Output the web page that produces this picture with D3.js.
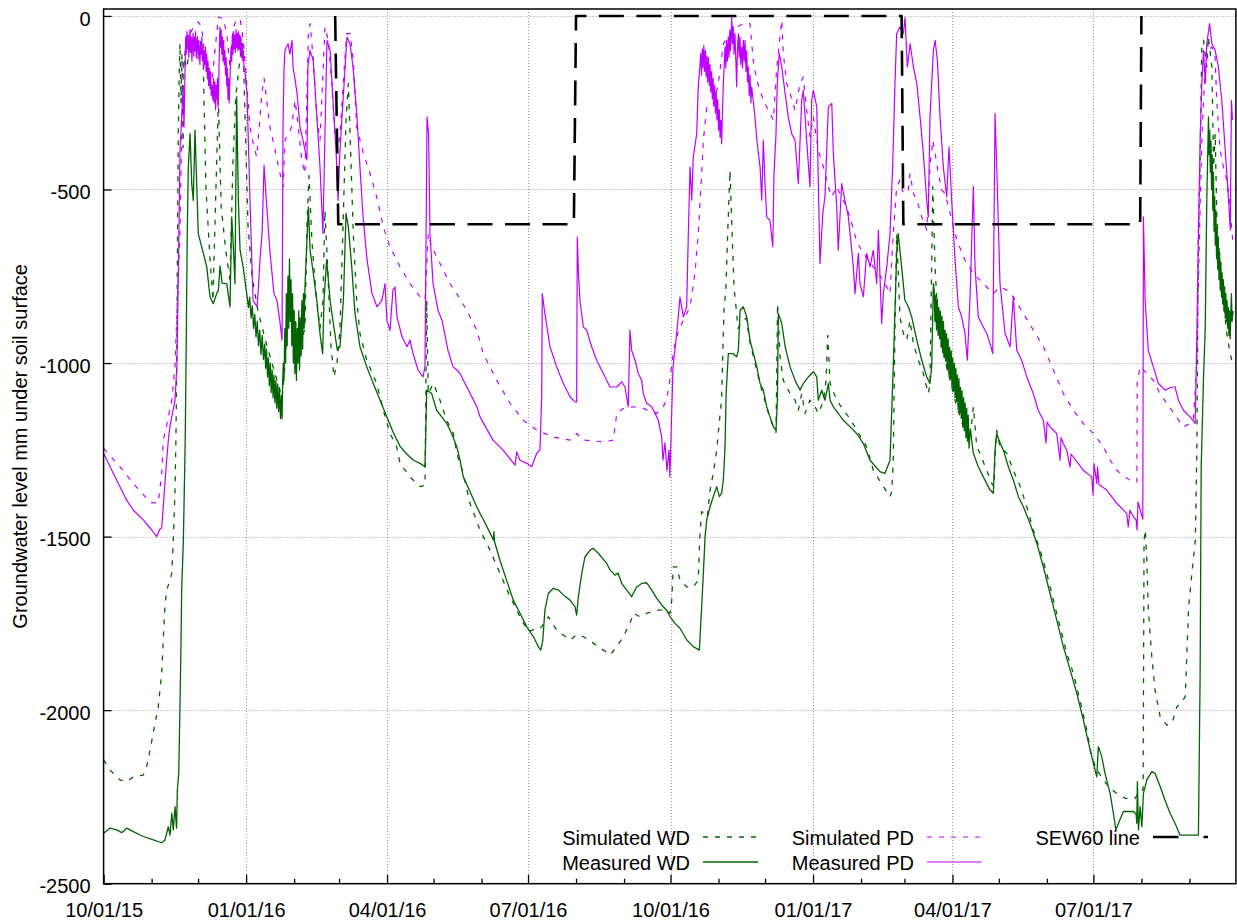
<!DOCTYPE html>
<html>
<head>
<meta charset="utf-8">
<script src="https://cdn.jsdelivr.net/npm/d3@7"></script>
<style>
  body { margin: 0; background: #fff; }
  svg { display: block; }
  text { font-family: "Liberation Sans", Arial, Helvetica, sans-serif; fill: #000; }
</style>
</head>
<body>
<svg id="chart" width="1237" height="924"></svg>
<script>
// Groundwater level below soil surface (mm), records from 10/01/2015.
// Each point is [days since 2015-10-01, level in mm].
const seriesStart = "2015-10-01";
const seriesEnd = "2017-10-01";

const yTickValues = [0, -500, -1000, -1500, -2000, -2500];
const xTickDates = ["2015-10-01", "2016-01-01", "2016-04-01", "2016-07-01", "2016-10-01", "2017-01-01", "2017-04-01", "2017-07-01"];
const xTickLabels = ["10/01/15", "01/01/16", "04/01/16", "07/01/16", "10/01/16", "01/01/17", "04/01/17", "07/01/17"];

const seriesNames = ["Simulated WD", "Measured WD", "Simulated PD", "Measured PD", "SEW60 line"];

const simulatedWD = [
[0,-2143],[4.1,-2172],[10.6,-2201],[14.9,-2206],[19.2,-2192],[25.6,-2187],[27.8,-2163],[30.0,-2115],[33.2,-2038],[35.3,-1990],[37.5,-1894],[38.5,-1798],[39.6,-1702],[40.7,-1654],[42.9,-1625],[44.0,-1606],[45.0,-1510],[46.1,-1366],[46.7,-1222],[47.2,-1011],[47.6,-723],[48.2,-339],[48.9,-147],[49.3,-80],[50.0,-250],[50.6,-110],[51.3,-380],[51.9,-120],[53.8,-150],[55.8,-80],[59.0,-60],[62.2,-70],[64.2,-110],[66.1,-500],[68.7,-700],[70.6,-820],[71.9,-600],[74.1,-243],[75.9,-550],[79.0,-680],[81.6,-760],[83.5,-420],[85.4,-230],[88.1,-120],[90.0,-80],[92.0,-400],[93.2,-600],[95.8,-750],[99.7,-850],[104.2,-930],[108.7,-1000],[112.6,-1060],[115.2,-1100],[117.2,-1000],[119.0,-850],[121.0,-800],[123.6,-880],[126.8,-950],[130.0,-900],[131.3,-600],[132.6,-460],[134.5,-650],[137.1,-800],[139.7,-900],[141.6,-820],[142.9,-560],[144.9,-750],[146.8,-950],[148.7,-1040],[150.7,-1000],[152.6,-900],[154.6,-600],[156.5,-300],[158.0,-195],[159.1,-339],[161.2,-627],[163.4,-819],[165.5,-915],[169.9,-992],[176.3,-1059],[180.6,-1136],[184.9,-1203],[189.2,-1241],[191.4,-1289],[197.8,-1328],[204.3,-1356],[207.5,-1352],[208.6,-819],[209.6,-1088],[212.9,-1059],[217.2,-1107],[221.5,-1165],[225.8,-1203],[228.0,-1260],[232.2,-1318],[236.5,-1404],[243.0,-1481],[249.5,-1539],[255.9,-1606],[262.4,-1673],[268.8,-1731],[274.2,-1774],[277.4,-1769],[280.7,-1769],[282.8,-1760],[287.1,-1731],[292.5,-1769],[301.1,-1798],[305.4,-1783],[309.7,-1788],[316.1,-1807],[322.6,-1827],[326.9,-1841],[331.3,-1817],[335.5,-1788],[339.8,-1750],[342.0,-1721],[346.3,-1731],[350.6,-1721],[357.1,-1712],[363.5,-1712],[365.7,-1721],[366.8,-1683],[367.8,-1587],[370.0,-1587],[372.1,-1625],[376.5,-1645],[380.7,-1645],[383.9,-1625],[385.0,-1491],[386.1,-1428],[388.3,-1433],[389.7,-1443],[391.5,-1366],[393.6,-1318],[395.8,-1251],[399.0,-1100],[400.5,-850],[401.8,-780],[403.1,-600],[404.4,-445],[405.7,-620],[407.0,-780],[409.6,-900],[412.2,-880],[414.8,-870],[417.3,-940],[423.8,-1060],[430.2,-1160],[434.1,-1200],[435.1,-829],[436.7,-980],[438.8,-1050],[443.2,-1088],[446.4,-1107],[448.5,-1136],[450.7,-1088],[452.9,-1145],[456.0,-1107],[459.3,-1126],[461.4,-1145],[464.7,-1110],[466.4,-1050],[467.5,-920],[469.0,-1059],[473.3,-1107],[477.6,-1136],[481.9,-1160],[486.2,-1193],[492.6,-1241],[496.9,-1309],[503.4,-1356],[507.7,-1385],[508.8,-1370],[509.8,-1280],[510.9,-900],[512.0,-627],[514.1,-867],[516.3,-915],[518.5,-934],[520.6,-877],[522.8,-944],[526.0,-992],[529.2,-1030],[532.4,-1088],[533.5,-1059],[535.3,-492],[536.8,-723],[537.9,-819],[540.0,-915],[543.2,-992],[546.5,-1050],[550.8,-1126],[555.1,-1184],[559.3,-1222],[561.5,-1126],[563.7,-1241],[565.8,-1260],[570.1,-1309],[573.4,-1347],[574.8,-1356],[575.9,-1222],[576.6,-1193],[578.7,-1241],[583.1,-1260],[587.3,-1309],[591.8,-1356],[596.0,-1414],[600.2,-1481],[604.6,-1539],[608.9,-1606],[613.2,-1683],[617.5,-1760],[621.8,-1836],[626.1,-1894],[630.3,-1971],[634.7,-2057],[637.9,-2134],[641.2,-2172],[645.4,-2201],[649.8,-2225],[654.1,-2240],[659.5,-2254],[665.9,-2254],[669.1,-2230],[671.1,-2230],[671.7,-1510],[672.5,-1481],[673.4,-1558],[674.4,-1702],[676.7,-1846],[678.8,-1942],[682.1,-2019],[686.4,-2043],[689.7,-2038],[692.9,-1990],[695.1,-1981],[698.3,-1961],[700.5,-1702],[702.6,-1606],[704.8,-1510],[705.8,-1251],[706.8,-627],[708.0,-387],[709.0,-89],[710.1,-70],[712.2,-147],[713.2,-60],[715.5,-147],[716.6,-435],[717.6,-339],[718.7,-579],[720.8,-723],[722.9,-819],[725.1,-915],[727.3,-973],[729.3,-1011]
];

const measuredWD = [
[0,-2355],[4.1,-2340],[8.5,-2345],[11.7,-2353],[14.9,-2340],[19.2,-2350],[25.6,-2364],[32.1,-2374],[37.5,-2382],[39.6,-2374],[41.8,-2336],[42.9,-2360],[44.0,-2297],[45.0,-2345],[46.1,-2278],[47.1,-2340],[47.6,-2230],[48.5,-2182],[49.3,-1990],[50.0,-1798],[50.4,-1654],[51.5,-1510],[52.1,-1366],[52.7,-1222],[53.2,-1011],[54.0,-627],[54.7,-435],[55.8,-339],[56.9,-483],[57.9,-531],[59.0,-329],[60.1,-483],[61.1,-627],[62.2,-646],[64.4,-684],[66.6,-723],[68.7,-809],[70.8,-829],[73.0,-800],[74.1,-790],[75.2,-720],[76.5,-770],[79.5,-771],[81.6,-838],[82.7,-579],[83.5,-640],[84.8,-771],[85.9,-233],[87.0,-531],[88.1,-675],[90.0,-720],[92.4,-800],[93.5,-840],[94.3,-810],[95.2,-870],[96.0,-835],[96.8,-900],[97.6,-860],[98.4,-925],[99.2,-880],[100.0,-950],[100.8,-905],[101.6,-975],[102.4,-920],[103.2,-990],[104.0,-945],[104.6,-1015],[105.2,-960],[105.8,-1040],[106.4,-985],[107.0,-1065],[107.6,-1000],[108.2,-1085],[108.8,-1020],[109.4,-1100],[110.0,-1035],[110.6,-1115],[111.2,-1050],[111.8,-1130],[112.4,-1060],[113.0,-1140],[113.6,-1075],[114.2,-1160],[114.8,-1095],[115.2,-1160],[115.6,-1060],[116.0,-1000],[116.5,-1050],[117.0,-900],[117.5,-1000],[118.0,-800],[118.5,-950],[119.0,-750],[119.5,-900],[120.0,-700],[120.5,-880],[121.0,-760],[121.5,-950],[122.0,-800],[122.5,-1000],[123.0,-850],[123.5,-1030],[124.0,-880],[124.5,-1050],[125.0,-900],[125.5,-1000],[126.0,-850],[126.5,-1020],[127.0,-870],[127.5,-980],[128.0,-820],[128.5,-960],[129.0,-800],[129.5,-900],[130.0,-780],[132.2,-550],[133.3,-675],[135.4,-742],[137.6,-819],[139.7,-915],[141.4,-973],[142.3,-819],[144.0,-703],[146.2,-819],[148.3,-886],[150.9,-963],[152.6,-953],[154.8,-819],[156.5,-569],[158.0,-608],[160.2,-723],[162.3,-857],[165.5,-953],[169.9,-1011],[174.1,-1059],[178.5,-1107],[182.8,-1155],[187.0,-1200],[191.4,-1240],[195.7,-1262],[200.0,-1280],[204.3,-1289],[207.5,-1299],[208.6,-1078],[211.8,-1088],[215.0,-1136],[218.3,-1155],[221.5,-1174],[224.7,-1203],[228.0,-1241],[230.1,-1280],[232.2,-1328],[236.5,-1370],[240.9,-1414],[243.0,-1433],[245.1,-1450],[249.5,-1490],[251.7,-1510],[252.0,-1486],[252.4,-1515],[255.9,-1568],[260.2,-1626],[264.5,-1683],[268.8,-1721],[273.2,-1760],[277.4,-1788],[280.7,-1817],[282.2,-1827],[283.5,-1800],[284.9,-1712],[287.1,-1664],[290.3,-1649],[293.6,-1654],[296.8,-1668],[301.1,-1683],[304.3,-1702],[305.4,-1726],[306.5,-1673],[308.7,-1606],[310.8,-1558],[314.1,-1539],[316.1,-1534],[319.4,-1548],[324.8,-1577],[326.9,-1596],[330.2,-1611],[332.1,-1605],[334.5,-1635],[337.7,-1654],[340.9,-1673],[344.1,-1645],[347.4,-1635],[350.6,-1633],[353.9,-1654],[357.1,-1678],[360.3,-1697],[363.5,-1712],[365.7,-1731],[368.9,-1750],[372.1,-1764],[376.5,-1798],[380.7,-1817],[384.6,-1827],[386.1,-1702],[387.2,-1606],[388.3,-1500],[389.4,-1452],[391.5,-1414],[393.6,-1385],[395.8,-1356],[397.5,-1385],[399.0,-1375],[400.1,-1337],[401.2,-1241],[401.9,-1088],[403.3,-973],[406.5,-973],[408.7,-982],[409.8,-963],[410.9,-848],[413.0,-838],[415.2,-867],[417.3,-934],[419.5,-973],[421.7,-1011],[423.8,-1059],[425.9,-1078],[428.1,-1126],[430.2,-1155],[432.4,-1184],[434.1,-1193],[435.0,-1107],[435.6,-857],[437.8,-886],[440.0,-953],[443.2,-1011],[446.4,-1050],[449.6,-1078],[451.7,-1059],[455.0,-1040],[458.2,-1025],[460.4,-1040],[461.4,-1107],[463.6,-1078],[465.7,-1107],[467.9,-1059],[469.0,-1107],[471.1,-1126],[474.3,-1145],[477.6,-1165],[481.9,-1184],[486.2,-1203],[490.5,-1232],[494.8,-1280],[501.2,-1313],[504.4,-1318],[507.7,-1280],[509.8,-1011],[512.0,-684],[513.0,-627],[515.2,-723],[517.3,-819],[519.5,-838],[521.7,-867],[525.0,-934],[528.2,-992],[531.4,-1040],[533.5,-1059],[534.6,-1011],[535.7,-771],[536.2,-790],[536.7,-880],[537.2,-805],[537.7,-905],[538.2,-815],[538.7,-920],[539.2,-840],[539.7,-930],[540.2,-850],[540.7,-955],[541.2,-865],[541.7,-970],[542.2,-880],[542.7,-985],[543.2,-905],[543.7,-995],[544.2,-915],[544.7,-1020],[545.2,-930],[545.7,-1035],[546.2,-955],[546.7,-1045],[547.2,-965],[547.7,-1070],[548.2,-985],[548.7,-1080],[549.2,-1000],[549.7,-1100],[550.2,-1015],[550.7,-1110],[551.2,-1035],[551.7,-1135],[552.2,-1045],[552.7,-1145],[553.2,-1070],[553.7,-1160],[554.2,-1080],[554.7,-1185],[555.2,-1100],[555.7,-1195],[556.2,-1115],[556.7,-1215],[557.2,-1130],[557.7,-1225],[558.2,-1150],[558.7,-1245],[559.5,-1190],[561.5,-1260],[564.7,-1299],[567.9,-1328],[572.3,-1366],[574.4,-1375],[575.5,-1251],[576.6,-1203],[577.5,-1215],[578.7,-1230],[580.9,-1251],[584.1,-1299],[587.3,-1337],[590.6,-1385],[593.8,-1414],[598.1,-1462],[602.5,-1520],[606.7,-1587],[611.0,-1664],[615.3,-1740],[619.6,-1817],[624.0,-1884],[628.3,-1952],[632.5,-2028],[636.9,-2115],[639.0,-2153],[641.2,-2192],[642.2,-2105],[644.4,-2134],[646.5,-2182],[649.8,-2240],[651.9,-2297],[653.5,-2345],[655.2,-2326],[658.4,-2292],[664.8,-2292],[666.6,-2300],[667.0,-2326],[667.4,-2206],[668.1,-2345],[669.2,-2278],[670.3,-2336],[671.3,-2240],[673.5,-2201],[676.7,-2177],[678.8,-2182],[682.1,-2220],[685.2,-2259],[688.5,-2297],[691.7,-2326],[694.9,-2360],[706.8,-2360],[707.9,-1900],[708.6,-1300],[710.1,-1040],[711.2,-900],[712.2,-531],[713.3,-291],[713.7,-400],[714.1,-330],[714.5,-450],[714.9,-360],[715.3,-500],[715.7,-400],[716.1,-560],[716.5,-450],[716.9,-620],[717.3,-520],[717.7,-660],[718.1,-560],[718.5,-700],[718.9,-610],[719.3,-730],[719.7,-650],[720.1,-760],[720.5,-680],[720.9,-790],[721.3,-710],[721.7,-810],[722.1,-740],[722.5,-830],[722.9,-760],[723.3,-850],[723.7,-780],[724.1,-870],[724.5,-800],[724.9,-880],[725.3,-820],[725.7,-900],[726.1,-840],[726.5,-920],[726.9,-850],[727.3,-930],[727.7,-860],[728.1,-800],[728.5,-880],[729.2,-850]
];

const simulatedPD = [
[0,-1246],[10.6,-1299],[19.2,-1347],[27.8,-1390],[31.1,-1403],[35.3,-1403],[37.5,-1318],[38.5,-1222],[39.6,-1203],[44.0,-1107],[46.1,-1011],[47.6,-819],[49.3,-627],[50.4,-339],[51.5,-147],[53.2,-80],[56.9,-41],[61.1,-17],[63.3,-32],[65.5,-128],[67.6,-185],[69.8,-195],[71.9,-99],[74.1,-3],[77.3,-8],[79.5,-51],[81.6,-147],[83.7,-32],[85.9,-12],[88.1,-8],[90.2,-70],[92.4,-195],[94.5,-320],[96.6,-368],[98.8,-406],[100.5,-320],[102.1,-224],[103.6,-180],[105.3,-243],[107.4,-320],[110.7,-387],[113.9,-454],[116.0,-492],[117.1,-358],[119.2,-339],[121.4,-320],[123.6,-243],[125.7,-320],[127.9,-415],[130.0,-454],[132.2,-51],[133.3,-22],[135.4,-128],[137.6,-291],[139.7,-358],[141.8,-147],[142.9,-32],[145.1,-70],[147.3,-195],[149.4,-339],[150.9,-396],[152.6,-339],[154.7,-195],[156.9,-51],[159.1,-51],[161.2,-128],[163.4,-320],[167.7,-396],[172.0,-454],[176.3,-521],[180.6,-608],[184.9,-665],[191.4,-723],[197.8,-771],[204.3,-809],[207.5,-819],[209.6,-627],[211.8,-665],[217.2,-713],[223.6,-771],[228.0,-800],[234.4,-848],[240.9,-905],[245.1,-973],[253.8,-1050],[262.4,-1116],[271.0,-1165],[279.6,-1193],[290.3,-1213],[301.1,-1222],[305.4,-1203],[309.7,-1222],[322.6,-1227],[329.1,-1222],[331.3,-1145],[335.5,-1131],[342.0,-1126],[348.4,-1131],[357.1,-1145],[361.3,-1126],[363.5,-1107],[365.8,-1040],[368.0,-963],[371.2,-905],[374.3,-877],[378.6,-838],[381.8,-742],[383.9,-627],[386.1,-454],[387.2,-358],[389.4,-262],[393.6,-252],[396.7,-200],[400.1,-80],[404.4,-51],[408.7,-32],[413.0,-22],[417.3,-22],[419.4,-128],[421.6,-185],[425.9,-243],[430.2,-281],[432.4,-300],[434.6,-147],[437.8,-12],[438.8,-108],[441.0,-195],[443.2,-224],[446.4,-272],[449.6,-195],[451.7,-176],[453.9,-272],[456.0,-348],[458.2,-291],[461.4,-387],[464.7,-435],[467.9,-492],[470.1,-521],[473.3,-492],[477.6,-531],[481.9,-579],[486.2,-650],[490.5,-684],[496.9,-723],[503.4,-761],[507.7,-800],[509.8,-627],[512.0,-492],[514.1,-473],[516.3,-511],[519.5,-502],[520.6,-454],[522.8,-511],[525.0,-531],[528.2,-579],[531.4,-617],[533.5,-435],[535.3,-358],[536.8,-396],[538.9,-454],[541.1,-502],[543.2,-511],[546.5,-569],[550.8,-646],[556.1,-703],[561.5,-742],[565.8,-761],[570.1,-781],[574.4,-800],[578.7,-781],[583.1,-790],[587.3,-809],[593.8,-857],[600.2,-905],[606.7,-953],[613.2,-1020],[619.6,-1088],[626.1,-1136],[632.5,-1174],[639.0,-1203],[645.4,-1241],[649.8,-1280],[654.1,-1309],[659.5,-1328],[663.8,-1342],[667.1,-1342],[667.3,-1050],[669.4,-1010],[673.4,-1030],[677.7,-1050],[682.0,-1088],[686.3,-1116],[691.0,-1145],[697.1,-1184],[701.4,-1174],[703.5,-1165],[705.7,-1011],[706.8,-771],[708.0,-531],[709.0,-358],[710.1,-243],[711.2,-147],[713.2,-99],[715.5,-89],[717.6,-118],[718.6,-243],[720.8,-387],[722.9,-435],[725.1,-473],[726.6,-521],[729.0,-650]
];

const measuredPD = [
[0,-1260],[6.3,-1318],[14.9,-1395],[19.2,-1424],[25.6,-1452],[31.1,-1481],[34.3,-1500],[36.4,-1478],[37.5,-1475],[38.5,-1414],[40.7,-1280],[41.8,-1222],[42.9,-1180],[46.1,-1107],[47.4,-1000],[48.4,-700],[49.3,-387],[50.4,-291],[51.3,-200],[51.9,-320],[52.6,-150],[53.0,-60],[53.4,-110],[53.8,-45],[54.2,-95],[54.6,-55],[55.0,-120],[55.4,-70],[55.8,-40],[56.2,-105],[56.6,-60],[57.0,-130],[57.4,-75],[57.8,-50],[58.2,-115],[58.6,-65],[59.0,-100],[59.4,-45],[59.8,-120],[60.2,-80],[60.6,-60],[61.0,-125],[61.4,-70],[61.8,-95],[62.2,-140],[62.6,-80],[63.0,-110],[63.4,-60],[63.8,-130],[64.2,-90],[64.6,-150],[65.0,-100],[65.4,-140],[65.8,-90],[66.2,-160],[66.6,-110],[67.0,-180],[67.4,-130],[67.8,-200],[68.2,-150],[68.7,-210],[69.1,-160],[69.5,-230],[70.0,-200],[70.6,-243],[71.0,-180],[71.4,-250],[71.9,-190],[72.3,-270],[72.7,-200],[73.1,-240],[73.5,-180],[73.9,-262],[74.3,-200],[74.5,-150],[75.1,-32],[75.5,-90],[75.9,-40],[76.3,-110],[76.7,-60],[77.1,-130],[77.5,-70],[77.9,-140],[78.3,-100],[78.7,-170],[79.1,-120],[79.5,-200],[79.9,-150],[80.3,-240],[80.7,-180],[81.1,-250],[81.5,-190],[81.9,-140],[82.3,-90],[82.7,-130],[83.1,-60],[83.5,-110],[83.9,-45],[84.3,-95],[84.7,-55],[85.1,-105],[85.5,-40],[85.9,-90],[86.3,-50],[86.7,-100],[87.1,-45],[87.5,-95],[87.9,-55],[88.3,-110],[88.7,-60],[89.1,-120],[89.5,-80],[89.9,-130],[90.3,-100],[90.7,-160],[91.3,-160],[92.0,-200],[92.6,-224],[94.5,-531],[95.8,-723],[96.5,-819],[99.0,-838],[99.7,-800],[101.0,-700],[102.3,-627],[103.6,-430],[104.9,-520],[107.4,-680],[110.0,-800],[111.9,-819],[113.8,-880],[115.2,-934],[115.8,-320],[116.5,-150],[117.1,-99],[119.1,-80],[120.3,-110],[121.6,-70],[122.3,-147],[123.5,-180],[124.9,-224],[126.8,-320],[128.7,-358],[131.3,-415],[131.9,-147],[133.2,-99],[135.3,-127],[137.1,-250],[139.7,-435],[141.6,-627],[142.9,-340],[144.2,-70],[146.2,-99],[148.1,-243],[150.1,-390],[151.4,-531],[152.6,-387],[154.6,-243],[157.1,-61],[159.1,-80],[161.0,-147],[163.6,-291],[165.5,-435],[167.5,-579],[170.1,-703],[173.3,-800],[176.5,-838],[179.7,-819],[181.7,-771],[182.9,-877],[184.9,-906],[186.8,-790],[188.1,-781],[189.4,-867],[192.7,-925],[195.9,-953],[197.8,-934],[199.8,-973],[203.0,-1020],[206.2,-1040],[207.5,-1011],[208.8,-291],[209.8,-339],[210.7,-627],[212.7,-771],[215.9,-848],[218.5,-877],[222.3,-963],[225.6,-1011],[228.1,-1020],[230.1,-1030],[234.6,-1070],[241.1,-1127],[243.0,-1155],[251.4,-1222],[257.9,-1251],[265.6,-1294],[266.7,-1256],[268.8,-1280],[273.2,-1289],[276.4,-1299],[279.6,-1260],[281.7,-1251],[282.8,-1100],[283.2,-800],[284.9,-858],[288.2,-953],[292.5,-1011],[296.8,-1059],[301.1,-1097],[304.3,-1112],[305.4,-1112],[305.8,-637],[306.5,-733],[307.5,-819],[309.7,-896],[311.9,-905],[315.1,-953],[318.3,-992],[322.6,-1030],[326.9,-1069],[331.3,-1069],[334.5,-1054],[336.6,-1069],[338.7,-1126],[339.8,-905],[340.9,-963],[343.1,-992],[345.2,-1030],[347.4,-1050],[348.4,-1088],[350.6,-1116],[353.9,-1126],[356.0,-1145],[358.1,-1165],[360.3,-1213],[361.1,-1280],[362.4,-1230],[363.7,-1310],[365.0,-1250],[365.6,-1328],[366.2,-1231],[367.6,-1011],[370.0,-915],[372.1,-810],[374.3,-867],[376.4,-838],[377.5,-627],[378.6,-435],[379.7,-531],[380.7,-406],[382.9,-339],[383.9,-204],[384.7,-160],[385.5,-108],[386.0,-170],[386.5,-95],[387.0,-150],[387.5,-85],[388.0,-160],[388.5,-100],[389.0,-175],[389.5,-115],[390.0,-190],[390.5,-120],[391.0,-200],[391.5,-140],[392.0,-220],[392.5,-160],[393.0,-240],[393.5,-180],[394.0,-260],[394.5,-200],[395.0,-280],[395.5,-220],[396.0,-300],[396.5,-240],[397.0,-330],[397.5,-270],[398.0,-350],[398.5,-300],[399.0,-368],[399.5,-280],[400.1,-195],[401.2,-89],[401.7,-150],[402.2,-70],[402.7,-130],[403.3,-60],[403.8,-120],[404.3,-40],[404.8,-100],[405.5,-5],[406.0,-80],[406.5,-30],[407.0,-110],[407.6,-51],[408.2,-130],[408.7,-204],[409.2,-100],[409.8,-51],[410.3,-120],[410.8,-60],[411.4,-140],[412.0,-89],[412.5,-150],[413.0,-70],[413.6,-130],[414.1,-70],[414.7,-160],[415.2,-100],[415.7,-190],[416.2,-147],[416.8,-230],[417.3,-170],[417.9,-250],[418.4,-204],[420.5,-291],[422.0,-368],[423.8,-435],[424.9,-531],[425.9,-358],[427.0,-483],[428.1,-579],[430.2,-589],[432.0,-665],[432.8,-454],[434.1,-339],[434.9,-195],[436.2,-108],[437.8,-147],[440.0,-224],[442.0,-291],[444.2,-339],[446.4,-358],[448.5,-483],[450.7,-243],[451.7,-214],[453.9,-358],[456.0,-492],[457.1,-243],[458.2,-214],[460.4,-262],[462.5,-713],[464.3,-569],[465.7,-521],[467.9,-262],[470.1,-252],[471.1,-396],[473.3,-550],[474.3,-675],[476.5,-483],[478.6,-531],[480.8,-579],[483.0,-675],[484.0,-723],[485.1,-800],[487.3,-684],[488.3,-771],[490.5,-809],[492.6,-684],[494.8,-723],[496.9,-675],[499.1,-771],[500.2,-617],[502.3,-886],[503.4,-800],[505.6,-723],[507.7,-627],[509.4,-435],[510.9,-195],[512.0,-51],[514.1,-32],[516.3,-51],[517.4,-5],[518.9,-147],[520.7,-80],[522.8,-147],[525.0,-195],[527.1,-291],[529.2,-396],[531.4,-531],[532.4,-579],[533.5,-291],[535.7,-99],[536.8,-70],[538.3,-128],[540.0,-291],[542.1,-435],[544.3,-521],[545.8,-377],[547.5,-531],[549.7,-703],[551.8,-838],[554.0,-867],[556.1,-915],[557.6,-992],[559.3,-819],[561.5,-492],[562.6,-723],[564.7,-867],[567.9,-896],[570.1,-915],[572.3,-944],[574.0,-973],[574.8,-627],[575.5,-281],[576.6,-435],[578.7,-771],[582.0,-915],[585.2,-953],[587.3,-809],[589.5,-963],[592.7,-992],[596.0,-1040],[600.2,-1088],[603.4,-1136],[606.7,-1165],[608.4,-1230],[609.1,-1170],[611.0,-1184],[615.3,-1203],[617.5,-1280],[618.1,-1215],[619.6,-1232],[621.8,-1251],[623.9,-1300],[624.6,-1262],[632.5,-1309],[637.9,-1328],[638.8,-1380],[639.4,-1290],[641.2,-1347],[641.7,-1300],[642.6,-1350],[647.6,-1366],[654.1,-1404],[660.5,-1433],[661.5,-1472],[662.6,-1424],[664.8,-1443],[666.6,-1452],[667.2,-1481],[667.8,-1400],[670.9,-1450],[671.3,-579],[672.4,-819],[674.4,-963],[677.7,-1011],[681.0,-1059],[685.3,-1078],[689.6,-1069],[691.7,-1069],[693.9,-1107],[697.1,-1136],[701.4,-1155],[704.7,-1174],[705.8,-915],[706.8,-627],[708.0,-339],[709.0,-195],[710.1,-99],[711.2,-195],[712.2,-80],[714.0,-22],[715.5,-80],[717.6,-99],[719.7,-147],[721.9,-243],[724.1,-387],[725.6,-483],[726.9,-579],[727.4,-617],[728.1,-243],[728.8,-300]
];

const sew60Line = [
[149.5,0],[151.5,-600],[303.6,-600],[305.0,0],[515.2,0],[516.3,-600],[669.2,-600],[670.0,0]
];

// ---- layout ----
const svg = d3.select("#chart");
const plot = { left: 103.6, right: 1235.9, top: 9, bottom: 883.7 };

const parseDay = d3.utcParse("%Y-%m-%d");
const t0 = parseDay(seriesStart);
const toDate = d => new Date(t0.getTime() + d * 86400000);

const x = d3.scaleUtc()
  .domain([t0, parseDay(seriesEnd)])
  .range([plot.left, plot.right]);
const y = d3.scaleLinear()
  .domain([-2500, 20])
  .range([plot.bottom, plot.top]);

const majorDates = xTickDates.map(parseDay);
const minorDates = d3.utcMonth.range(t0, parseDay(seriesEnd)).filter(d => d.getUTCMonth() % 3 !== 0);

// ---- grid ----
const grid = svg.append("g").attr("class", "grid")
  .attr("stroke", "#9a9a9a").attr("stroke-width", 1).attr("stroke-dasharray", "1,2");
grid.selectAll("line.v").data(majorDates.slice(1)).join("line")
  .attr("class", "v")
  .attr("x1", d => Math.round(x(d)) + 0.5).attr("x2", d => Math.round(x(d)) + 0.5)
  .attr("y1", plot.top).attr("y2", plot.bottom);
grid.selectAll("line.h").data(yTickValues.filter(v => v > -2500)).join("line")
  .attr("class", "h")
  .attr("y1", d => Math.round(y(d)) + 0.5).attr("y2", d => Math.round(y(d)) + 0.5)
  .attr("x1", plot.left).attr("x2", plot.right);

// ---- axes ----
const xAxis = d3.axisBottom(x)
  .tickValues(majorDates)
  .tickSize(-9)
  .tickPadding(19)
  .tickFormat((d, i) => xTickLabels[i]);
const gx = svg.append("g")
  .attr("transform", `translate(0,${plot.bottom})`)
  .call(xAxis);
gx.select(".domain").remove();
gx.selectAll(".tick line").attr("stroke", "#000").attr("stroke-width", 1.3);
gx.selectAll(".tick text").attr("font-size", 20).attr("fill", "#000");

const xMinor = d3.axisBottom(x).tickValues(minorDates).tickSize(-5).tickFormat("");
const gxm = svg.append("g").attr("transform", `translate(0,${plot.bottom})`).call(xMinor);
gxm.select(".domain").remove();
gxm.selectAll(".tick line").attr("stroke", "#000").attr("stroke-width", 1.3);

const yAxis = d3.axisLeft(y)
  .tickValues(yTickValues)
  .tickSize(-8)
  .tickPadding(13)
  .tickFormat(d3.format("d"));
const gy = svg.append("g")
  .attr("transform", `translate(${plot.left},0)`)
  .call(yAxis);
gy.select(".domain").remove();
gy.selectAll(".tick line").attr("stroke", "#000").attr("stroke-width", 1.3);
gy.selectAll(".tick text").attr("font-size", 20).attr("fill", "#000").attr("dy", "0.46em")
  .text(d => String(d));

svg.append("text")
  .attr("transform", `translate(27,${(plot.top + plot.bottom) / 2}) rotate(-90)`)
  .attr("text-anchor", "middle")
  .attr("font-size", 20)
  .text("Groundwater level mm under soil surface");

// ---- series ----
svg.append("clipPath").attr("id", "plot-clip")
  .append("rect")
  .attr("x", plot.left).attr("y", plot.top)
  .attr("width", plot.right - plot.left).attr("height", plot.bottom - plot.top);

const line = d3.line()
  .x(d => x(toDate(d[0])))
  .y(d => y(d[1]));

const styles = [
  { data: simulatedWD, color: "#006400", width: 1.3, dash: "5,7" },
  { data: measuredWD,  color: "#006400", width: 1.3, dash: null },
  { data: simulatedPD, color: "#c000ff", width: 1.2, dash: "5,7" },
  { data: measuredPD,  color: "#c000ff", width: 1.2, dash: null },
  { data: sew60Line,   color: "#000000", width: 2.6, dash: "25,12.5" }
];

const series = svg.append("g").attr("clip-path", "url(#plot-clip)");

// ---- legend (drawn beneath the curves) ----
const legend = svg.append("g").attr("class", "legend");
const legendItems = [
  { name: seriesNames[0], s: styles[0], tx: 690,  ly: 837 },
  { name: seriesNames[1], s: styles[1], tx: 690,  ly: 862 },
  { name: seriesNames[2], s: styles[2], tx: 914,  ly: 837 },
  { name: seriesNames[3], s: styles[3], tx: 914,  ly: 862 },
  { name: seriesNames[4], s: styles[4], tx: 1140, ly: 837 }
];
legendItems.forEach(it => {
  legend.append("text")
    .attr("x", it.tx).attr("y", it.ly + 7.5)
    .attr("text-anchor", "end")
    .attr("font-size", 20)
    .text(it.name);
  legend.append("line")
    .attr("x1", it.tx + 13).attr("x2", it.tx + 68)
    .attr("y1", it.ly).attr("y2", it.ly)
    .attr("stroke", it.s.color)
    .attr("stroke-width", it.s.width)
    .attr("stroke-dasharray", it.s === styles[4] ? "25.5,25" : it.s.dash);
});

styles.forEach(s => {
  series.append("path")
    .datum(s.data)
    .attr("d", line)
    .attr("fill", "none")
    .attr("stroke", s.color)
    .attr("stroke-width", s.width)
    .attr("stroke-linejoin", "round")
    .attr("stroke-dasharray", s.dash);
});

// ---- frame ----
svg.append("rect")
  .attr("x", plot.left).attr("y", plot.top)
  .attr("width", plot.right - plot.left).attr("height", plot.bottom - plot.top)
  .attr("fill", "none").attr("stroke", "#000").attr("stroke-width", 1.5);
</script>
</body>
</html>
